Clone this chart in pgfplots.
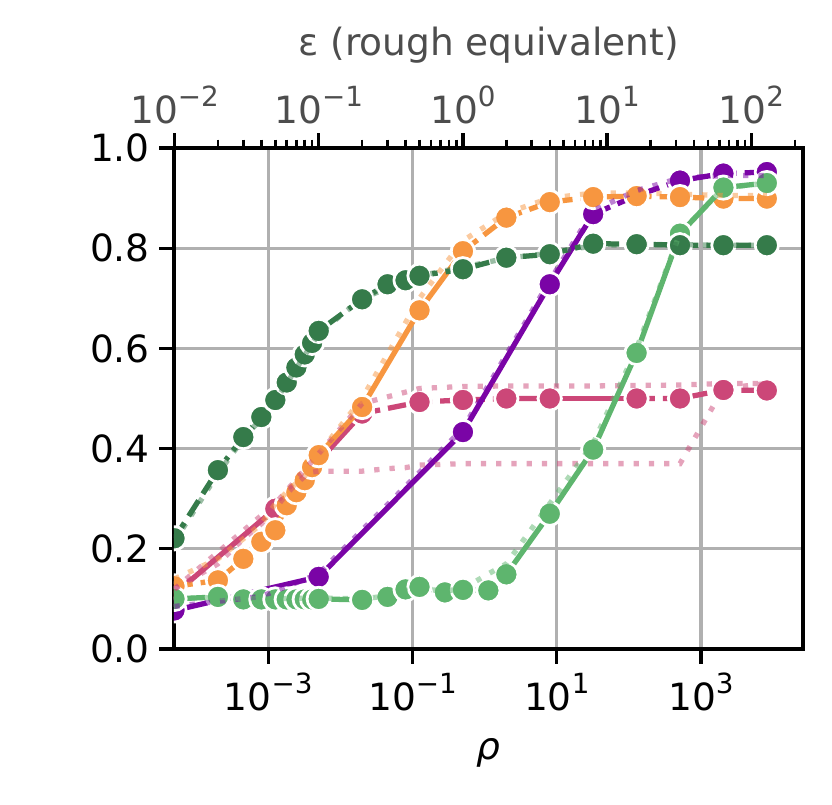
\documentclass[border=0pt]{standalone}
\usepackage{fontspec}
\setmainfont{DejaVu Sans}
\usepackage{pgfplots}
\pgfplotsset{compat=1.18}
\definecolor{dg}{RGB}{53,123,74}
\definecolor{orc}{RGB}{247,150,64}
\definecolor{pk}{RGB}{204,71,120}
\definecolor{pu}{RGB}{122,4,166}
\definecolor{lg}{RGB}{94,181,110}
\definecolor{gridc}{RGB}{176,176,176}
\definecolor{textgrey}{RGB}{77,77,77}
\newcommand{\pw}[1]{10\raisebox{0.45em}{\fontsize{10bp}{10bp}\selectfont #1}}
\newcommand{\lblfont}{\fontsize{13.5bp}{16bp}\selectfont}
\pgfplotsset{
  ser/.style={color=#1, line width=1.9bp, mark=*, mark size=4.2bp, line join=round,
    mark options={solid, fill=#1, draw=white, line width=1bp}},
  dsh/.style={dash pattern=on 6.6bp off 2.9bp},
  dotl/.style={color=#1, opacity=0.5, line width=1.9bp, dash pattern=on 1.9bp off 3.6bp, no marks},
}
\begin{document}
\begin{tikzpicture}
\useasboundingbox (-62.64bp,-56.16bp) rectangle (236.88bp,233.64bp);
\begin{axis}[
  at={(0,0)}, anchor=south west,
  width=226.44bp, height=180.36bp, scale only axis,
  xmode=log, log basis x=10, xmin=4.92e-5, xmax=26000, ymin=0, ymax=1,
  xtick={1e-3,1e-1,10,1000}, xticklabels={\pw{−3},\pw{−1},\pw{1},\pw{3}},
  minor xtick={},
  ytick={0,0.2,0.4,0.6,0.8,1}, yticklabels={0.0,0.2,0.4,0.6,0.8,1.0},
  tick pos=left, tick align=outside, major tick length=5.25bp,
  major tick style={line width=1.2bp, black},
  axis line style={line width=1.2bp},
  grid=major, major grid style={line width=1.2bp, color=gridc},
  tick label style={font=\lblfont},
  xlabel={\textit{ρ}}, label style={font=\lblfont},
  xlabel style={at={(axis description cs:0.5,0)}, anchor=center, yshift=-37.4bp},
  clip marker paths=true,
]
% pink
\addplot[ser=pk] coordinates {(5e-5,0.11) (1.25e-3,0.28) (0.02,0.47)};
\addplot[ser=pk, dsh] coordinates {(0.02,0.47) (0.125,0.493) (0.5,0.497) (2,0.50) (8,0.50)};
\addplot[ser=pk] coordinates {(8,0.50) (128,0.50)};
\addplot[ser=pk, dsh] coordinates {(128,0.50) (512,0.50) (2048,0.517) (8192,0.516)};
% purple
\addplot[ser=pu] coordinates {(5e-5,0.077) (5e-3,0.144) (0.5,0.433) (8,0.728) (32,0.868)};
\addplot[ser=pu, dsh] coordinates {(32,0.868) (128,0.905) (512,0.935) (2048,0.949) (8192,0.952)};
% orange
\addplot[ser=orc, dsh] coordinates {(5e-5,0.125) (2e-4,0.137) (4.5e-4,0.180) (8e-4,0.214) (1.25e-3,0.237) (1.8e-3,0.287) (2.45e-3,0.313) (3.2e-3,0.337) (4.05e-3,0.363) (5e-3,0.387)};
\addplot[ser=orc] coordinates {(5e-3,0.387) (0.02,0.483) (0.125,0.676) (0.5,0.794)};
\addplot[ser=orc, dsh] coordinates {(0.5,0.794) (2,0.861) (8,0.892) (32,0.902) (128,0.904) (512,0.902) (2048,0.899) (8192,0.899)};
% light green
\addplot[ser=lg] coordinates {(5e-5,0.100) (2e-4,0.104) (4.5e-4,0.099) (8e-4,0.099) (1.25e-3,0.099) (1.8e-3,0.099) (2.45e-3,0.099) (3.2e-3,0.099) (4.05e-3,0.099) (5e-3,0.100) (0.02,0.098) (0.045,0.104) (0.08,0.119) (0.125,0.124) (0.28125,0.113) (0.5,0.118) (1.125,0.117) (2,0.149) (8,0.270) (32,0.398) (128,0.591) (512,0.829) (2048,0.921) (8192,0.930)};
% dark green
\addplot[ser=dg, dsh] coordinates {(5e-5,0.221) (2e-4,0.357) (4.5e-4,0.423) (8e-4,0.463) (1.25e-3,0.497) (1.8e-3,0.532) (2.45e-3,0.562) (3.2e-3,0.588) (4.05e-3,0.611) (5e-3,0.635) (0.02,0.698) (0.045,0.728) (0.08,0.736) (0.125,0.745) (0.5,0.758) (2,0.781) (8,0.788) (32,0.809) (128,0.808) (512,0.806) (2048,0.806) (8192,0.806)};
% faded dotted companions
\addplot[dotl=pk] coordinates {(5e-5,0.12) (1.25e-3,0.29) (0.02,0.49) (0.125,0.52) (0.5,0.524) (2,0.525) (8,0.525) (32,0.525) (128,0.526) (512,0.527) (2048,0.53) (8192,0.53)};
\addplot[dotl=pk] coordinates {(5e-5,0.12) (2e-4,0.17) (4.5e-4,0.22) (8e-4,0.25) (1.25e-3,0.28) (1.8e-3,0.31) (2.45e-3,0.33) (3.2e-3,0.345) (4.05e-3,0.353) (5e-3,0.355) (0.02,0.355) (0.045,0.36) (0.08,0.362) (0.125,0.367) (0.5,0.37) (2,0.37) (8,0.37) (32,0.37) (128,0.37) (512,0.37) (2048,0.52) (8192,0.53)};
\addplot[dotl=pu] coordinates {(5e-5,0.085) (2e-4,0.095) (8e-4,0.105) (5e-3,0.15) (0.5,0.44) (8,0.735) (32,0.875) (128,0.915) (512,0.94) (2048,0.945) (8192,0.945)};
\addplot[dotl=orc] coordinates {(5e-5,0.14) (2e-4,0.18) (4.5e-4,0.22) (8e-4,0.25) (1.25e-3,0.29) (2e-3,0.32) (3.2e-3,0.345) (5e-3,0.39) (0.02,0.50) (0.125,0.70) (0.5,0.815) (2,0.87) (8,0.90) (32,0.91) (128,0.91) (512,0.908) (2048,0.905) (8192,0.905)};
\addplot[dotl=lg] coordinates {(5e-5,0.10) (2e-4,0.103) (8e-4,0.10) (5e-3,0.102) (0.02,0.10) (0.045,0.106) (0.08,0.117) (0.125,0.12) (0.28125,0.116) (0.5,0.12) (1.125,0.15) (2,0.17) (8,0.29) (32,0.41) (128,0.60) (512,0.83) (2048,0.92) (8192,0.93)};
\addplot[dotl=dg] coordinates {(5e-5,0.215) (2e-4,0.35) (4.5e-4,0.42) (8e-4,0.46) (1.25e-3,0.495) (2.45e-3,0.56) (5e-3,0.63) (0.02,0.70) (0.125,0.745) (0.5,0.762) (2,0.78) (8,0.79) (32,0.805) (128,0.808) (512,0.807) (2048,0.806) (8192,0.806)};
\end{axis}
\begin{axis}[
  at={(0,0)}, anchor=south west,
  width=226.44bp, height=180.36bp, scale only axis,
  xmode=log, log basis x=10, xmin=0.00992, xmax=228, ymin=0, ymax=1,
  axis x line*=top, hide y axis,
  xtick={0.01,0.1,1,10,100}, xticklabels={\pw{−2},\pw{−1},\pw{0},\pw{1},\pw{2}},
  minor xtick={0.02,0.03,0.04,0.05,0.06,0.07,0.08,0.09,0.2,0.3,0.4,0.5,0.6,0.7,0.8,0.9,2,3,4,5,6,7,8,9,20,30,40,50,60,70,80,90,200},
  tick align=outside, major tick length=5.25bp, minor tick length=3bp,
  major tick style={line width=1.2bp, black}, minor tick style={line width=0.9bp, black},
  axis line style={line width=1.2bp},
  xticklabel style={font=\lblfont, color=textgrey},
  xlabel={ε (rough equivalent)},
  xlabel style={font=\lblfont, color=textgrey, at={(axis description cs:0.5,1)}, anchor=center, yshift=37.1bp},
]
\addplot[draw=none, forget plot] coordinates {(1,0.5)};
\end{axis}
\end{tikzpicture}
\end{document}
